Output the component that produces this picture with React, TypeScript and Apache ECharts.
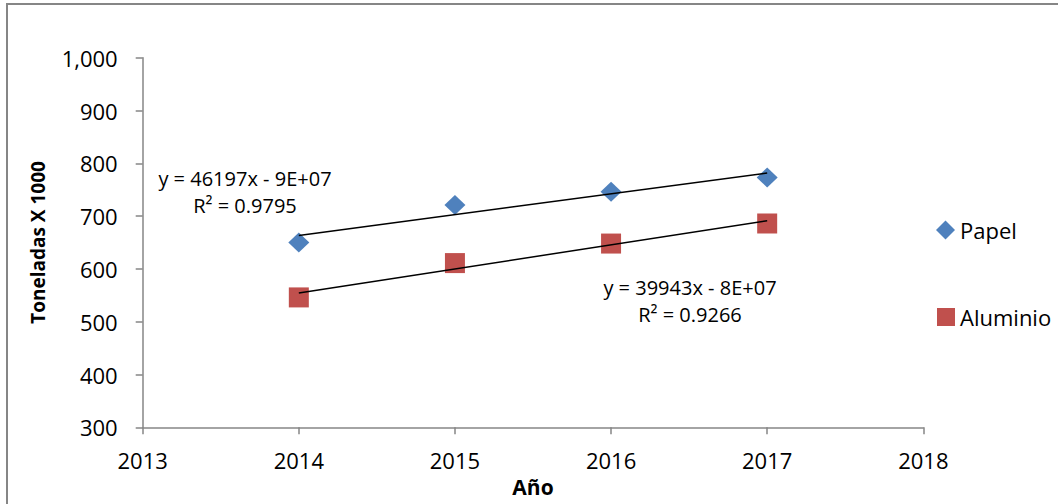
import React, { useEffect, useRef } from "react";
import * as echarts from "echarts";

const years = [2014, 2015, 2016, 2017];
const papel = [650, 721, 746, 773];
const aluminio = [546, 611, 648, 686];
const xTicks = [2013, 2014, 2015, 2016, 2017, 2018];
const yTicks = [300, 400, 500, 600, 700, 800, 900, 1000];
const papelEq = ["y = 46197x - 9E+07", "R² = 0.9795"];
const aluminioEq = ["y = 39943x - 8E+07", "R² = 0.9266"];

function trend(xs: number[], ys: number[]): number[][] {
  const n = xs.length;
  const mx = xs.reduce((a, b) => a + b, 0) / n;
  const my = ys.reduce((a, b) => a + b, 0) / n;
  let num = 0;
  let den = 0;
  for (let i = 0; i < n; i++) {
    num += (xs[i] - mx) * (ys[i] - my);
    den += (xs[i] - mx) * (xs[i] - mx);
  }
  const m = num / den;
  const b = my - m * mx;
  return [
    [xs[0], m * xs[0] + b],
    [xs[n - 1], m * xs[n - 1] + b],
  ];
}

const FONT = "'Open Sans', 'Noto Sans', sans-serif";
const AXIS = "#868686";

export default function App() {
  const ref = useRef<HTMLDivElement>(null);
  useEffect(() => {
    if (!ref.current) return;
    const chart = echarts.init(ref.current, undefined, { renderer: "svg" });
    const eqStyle = { fontFamily: FONT, fontSize: 20, fill: "#000", align: "center", verticalAlign: "middle" };
    chart.setOption({
      animation: false,
      backgroundColor: "#fff",
      textStyle: { fontFamily: FONT },
      grid: { left: 142.7, right: 134.7, top: 57.7, bottom: 76.7, containLabel: false, outerBoundsMode: "none" },
      xAxis: {
        type: "value",
        min: xTicks[0],
        max: xTicks[xTicks.length - 1],
        interval: 1,
        name: "Año",
        nameLocation: "middle",
        nameGap: 48,
        nameTextStyle: { fontFamily: FONT, fontSize: 21, fontWeight: "bold", color: "#000" },
        axisLine: { show: true, lineStyle: { color: AXIS, width: 1.5 } },
        axisTick: { show: true, inside: false, length: 7, lineStyle: { color: AXIS, width: 1.5 } },
        axisLabel: { formatter: (v: number) => String(v), fontSize: 22, color: "#000", margin: 22, fontFamily: FONT },
        splitLine: { show: false },
      },
      yAxis: {
        type: "value",
        min: yTicks[0],
        max: yTicks[yTicks.length - 1],
        interval: 100,
        name: "Toneladas X 1000",
        nameLocation: "middle",
        nameRotate: 90,
        nameGap: 95,
        nameTextStyle: { fontFamily: FONT, fontSize: 19, fontWeight: "bold", color: "#000" },
        axisLine: { show: true, lineStyle: { color: AXIS, width: 1.5 } },
        axisTick: { show: true, inside: false, length: 7, lineStyle: { color: AXIS, width: 1.5 } },
        axisLabel: {
          formatter: (v: number) => v.toLocaleString("en-US"),
          fontSize: 22,
          color: "#000",
          margin: 25,
          fontFamily: FONT,
        },
        splitLine: { show: false },
      },
      legend: [
        {
          data: [{ name: "Papel", icon: "diamond" }],
          left: 931,
          top: 214,
          itemWidth: 19,
          itemHeight: 19,
          itemGap: 0,
          textStyle: { fontFamily: FONT, fontSize: 22, color: "#000", lineHeight: 22 },
          selectedMode: false,
        },
        {
          data: [{ name: "Aluminio", icon: "rect" }],
          left: 932,
          top: 301,
          itemWidth: 18,
          itemHeight: 18,
          itemGap: 0,
          textStyle: { fontFamily: FONT, fontSize: 22, color: "#000", lineHeight: 22 },
          selectedMode: false,
        },
      ],
      series: [
        {
          name: "Papel",
          type: "scatter",
          symbol: "diamond",
          symbolSize: [21, 20],
          itemStyle: { color: "#4F81BD", opacity: 1 },
          data: years.map((y, i) => [y, papel[i]]),
          z: 2,
        },
        {
          name: "Aluminio",
          type: "scatter",
          symbol: "rect",
          symbolSize: 20,
          itemStyle: { color: "#C0504D", opacity: 1 },
          data: years.map((y, i) => [y, aluminio[i]]),
          z: 2,
        },
        {
          name: "Tendencia Papel",
          type: "line",
          showSymbol: false,
          symbol: "none",
          lineStyle: { color: "#000", width: 1.5 },
          data: trend(years, papel),
          z: 3,
          silent: true,
        },
        {
          name: "Tendencia Aluminio",
          type: "line",
          showSymbol: false,
          symbol: "none",
          lineStyle: { color: "#000", width: 1.5 },
          data: trend(years, aluminio),
          z: 3,
          silent: true,
        },
      ],
      graphic: [
        {
          type: "rect",
          shape: { x: 7, y: 4, width: 1200, height: 700 },
          style: { fill: "none", stroke: AXIS, lineWidth: 2 },
          silent: true,
          z: -1,
        },
        { type: "text", x: 245, y: 178, style: { text: papelEq[0], ...eqStyle } },
        { type: "text", x: 245, y: 205, style: { text: papelEq[1], ...eqStyle } },
        { type: "text", x: 690, y: 287, style: { text: aluminioEq[0], ...eqStyle } },
        { type: "text", x: 690, y: 314, style: { text: aluminioEq[1], ...eqStyle } },
      ],
    });
    return () => chart.dispose();
  }, []);
  return (
    <div
      ref={ref}
      style={{ position: "fixed", left: 0, top: 0, width: 1058, height: 504, background: "#fff" }}
    />
  );
}
